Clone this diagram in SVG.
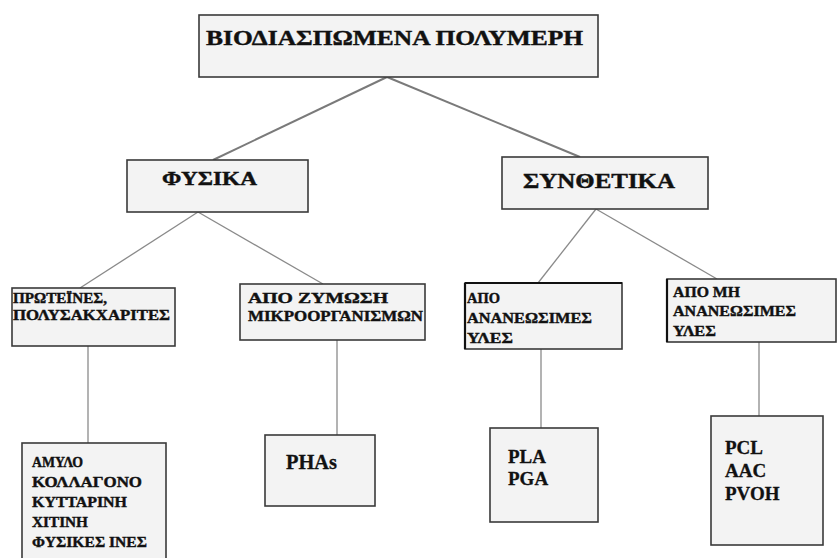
<svg xmlns="http://www.w3.org/2000/svg" width="839" height="558" viewBox="0 0 839 558">
<style>
.box{fill:#f3f3f3;stroke:#3a3a3a;stroke-width:1.6}
.t{font-family:"Liberation Serif","DejaVu Serif","Times New Roman",serif;font-weight:bold;fill:#111;stroke:#111;stroke-width:0.3}
.g{font-family:"Liberation Serif","DejaVu Serif",serif;font-weight:bold;fill:#111;stroke:#111;stroke-width:0.4}
.c{stroke:#8a8a8a;stroke-width:1.3;fill:none}
.ct{stroke:#7a7a7a;stroke-width:2;fill:none}
</style>
<rect width="839" height="558" fill="#ffffff"/>
<g id="connectors">
<line class="ct" x1="387" y1="77" x2="213" y2="160"/>
<line class="ct" x1="387" y1="77" x2="580" y2="157"/>
<line class="c" x1="198" y1="212" x2="80" y2="288"/>
<line class="c" x1="198" y1="212" x2="323" y2="284"/>
<line class="c" x1="596" y1="209" x2="538" y2="283"/>
<line class="c" x1="596" y1="209" x2="717" y2="279"/>
<line class="c" x1="88" y1="346" x2="88" y2="443"/>
<line class="c" x1="337" y1="340" x2="337" y2="435"/>
<line class="c" x1="541" y1="349" x2="541" y2="428"/>
<line class="c" x1="759" y1="342" x2="759" y2="416"/>
</g>
<g id="root">
<rect class="box" x="199" y="15" width="399" height="62"/>
<text class="g" x="206" y="45" font-size="21" textLength="377" lengthAdjust="spacingAndGlyphs">ΒΙΟΔΙΑΣΠΩΜΕΝΑ ΠΟΛΥΜΕΡΗ</text>
</g>
<g id="fysika">
<rect class="box" x="127" y="160" width="181" height="52"/>
<text class="g" x="162" y="185" font-size="19" textLength="95" lengthAdjust="spacingAndGlyphs">ΦΥΣΙΚΑ</text>
</g>
<g id="synthetika">
<rect class="box" x="502" y="157" width="206" height="52"/>
<text class="g" x="523" y="188" font-size="20" textLength="152" lengthAdjust="spacingAndGlyphs">ΣΥΝΘΕΤΙΚΑ</text>
</g>
<g id="proteines">
<rect class="box" x="12" y="288" width="163" height="58"/>
<text class="g" x="13" y="303" font-size="14.5" textLength="94" lengthAdjust="spacingAndGlyphs">ΠΡΩΤΕΪΝΕΣ,</text>
<text class="g" x="13" y="320" font-size="14.5" textLength="157" lengthAdjust="spacingAndGlyphs">ΠΟΛΥΣΑΚΧΑΡΙΤΕΣ</text>
</g>
<g id="zymosi">
<rect class="box" x="240" y="284" width="185" height="56"/>
<text class="g" x="248" y="303" font-size="14.5" textLength="140" lengthAdjust="spacingAndGlyphs">ΑΠΟ ΖΥΜΩΣΗ</text>
<text class="g" x="248" y="321" font-size="14.5" textLength="175" lengthAdjust="spacingAndGlyphs">ΜΙΚΡΟΟΡΓΑΝΙΣΜΩΝ</text>
</g>
<g id="ananeosimes">
<rect class="box" x="465" y="283" width="157" height="66"/>
<line x1="465" y1="283" x2="465" y2="349" stroke="#111" stroke-width="2.2"/>
<line x1="465" y1="283" x2="622" y2="283" stroke="#111" stroke-width="2"/>
<text class="g" x="467" y="303" font-size="14.5" textLength="33" lengthAdjust="spacingAndGlyphs">ΑΠΟ</text>
<text class="g" x="467" y="323" font-size="14.5" textLength="125" lengthAdjust="spacingAndGlyphs">ΑΝΑΝΕΩΣΙΜΕΣ</text>
<text class="g" x="467" y="343" font-size="14.5" textLength="46" lengthAdjust="spacingAndGlyphs">ΥΛΕΣ</text>
</g>
<g id="mi-ananeosimes">
<rect class="box" x="667" y="279" width="169" height="63"/>
<line x1="667" y1="279" x2="667" y2="342" stroke="#111" stroke-width="2.2"/>
<text class="g" x="673" y="297" font-size="14.5" textLength="67" lengthAdjust="spacingAndGlyphs">ΑΠΟ ΜΗ</text>
<text class="g" x="673" y="316" font-size="14.5" textLength="123" lengthAdjust="spacingAndGlyphs">ΑΝΑΝΕΩΣΙΜΕΣ</text>
<text class="g" x="673" y="336" font-size="14.5" textLength="43" lengthAdjust="spacingAndGlyphs">ΥΛΕΣ</text>
</g>
<g id="amylo">
<rect class="box" x="22" y="443" width="144" height="125"/>
<text class="g" x="32" y="467" font-size="15" textLength="51" lengthAdjust="spacingAndGlyphs">ΑΜΥΛΟ</text>
<text class="g" x="32" y="487" font-size="15" textLength="110" lengthAdjust="spacingAndGlyphs">ΚΟΛΛΑΓΟΝΟ</text>
<text class="g" x="32" y="507" font-size="15" textLength="95" lengthAdjust="spacingAndGlyphs">ΚΥΤΤΑΡΙΝΗ</text>
<text class="g" x="32" y="527" font-size="15" textLength="56" lengthAdjust="spacingAndGlyphs">ΧΙΤΙΝΗ</text>
<text class="g" x="32" y="547" font-size="15" textLength="115" lengthAdjust="spacingAndGlyphs">ΦΥΣΙΚΕΣ ΙΝΕΣ</text>
</g>
<g id="phas">
<rect class="box" x="265" y="435" width="110" height="71"/>
<text class="t" x="286" y="469" font-size="20" textLength="51" lengthAdjust="spacingAndGlyphs">PHAs</text>
</g>
<g id="pla">
<rect class="box" x="490" y="428" width="108" height="94"/>
<text class="t" x="508" y="463" font-size="19">PLA</text>
<text class="t" x="508" y="485" font-size="19">PGA</text>
</g>
<g id="pcl">
<rect class="box" x="711" y="416" width="112" height="129"/>
<text class="t" x="725" y="454" font-size="19">PCL</text>
<text class="t" x="725" y="477" font-size="19">AAC</text>
<text class="t" x="725" y="500" font-size="19">PVOH</text>
</g>
</svg>
